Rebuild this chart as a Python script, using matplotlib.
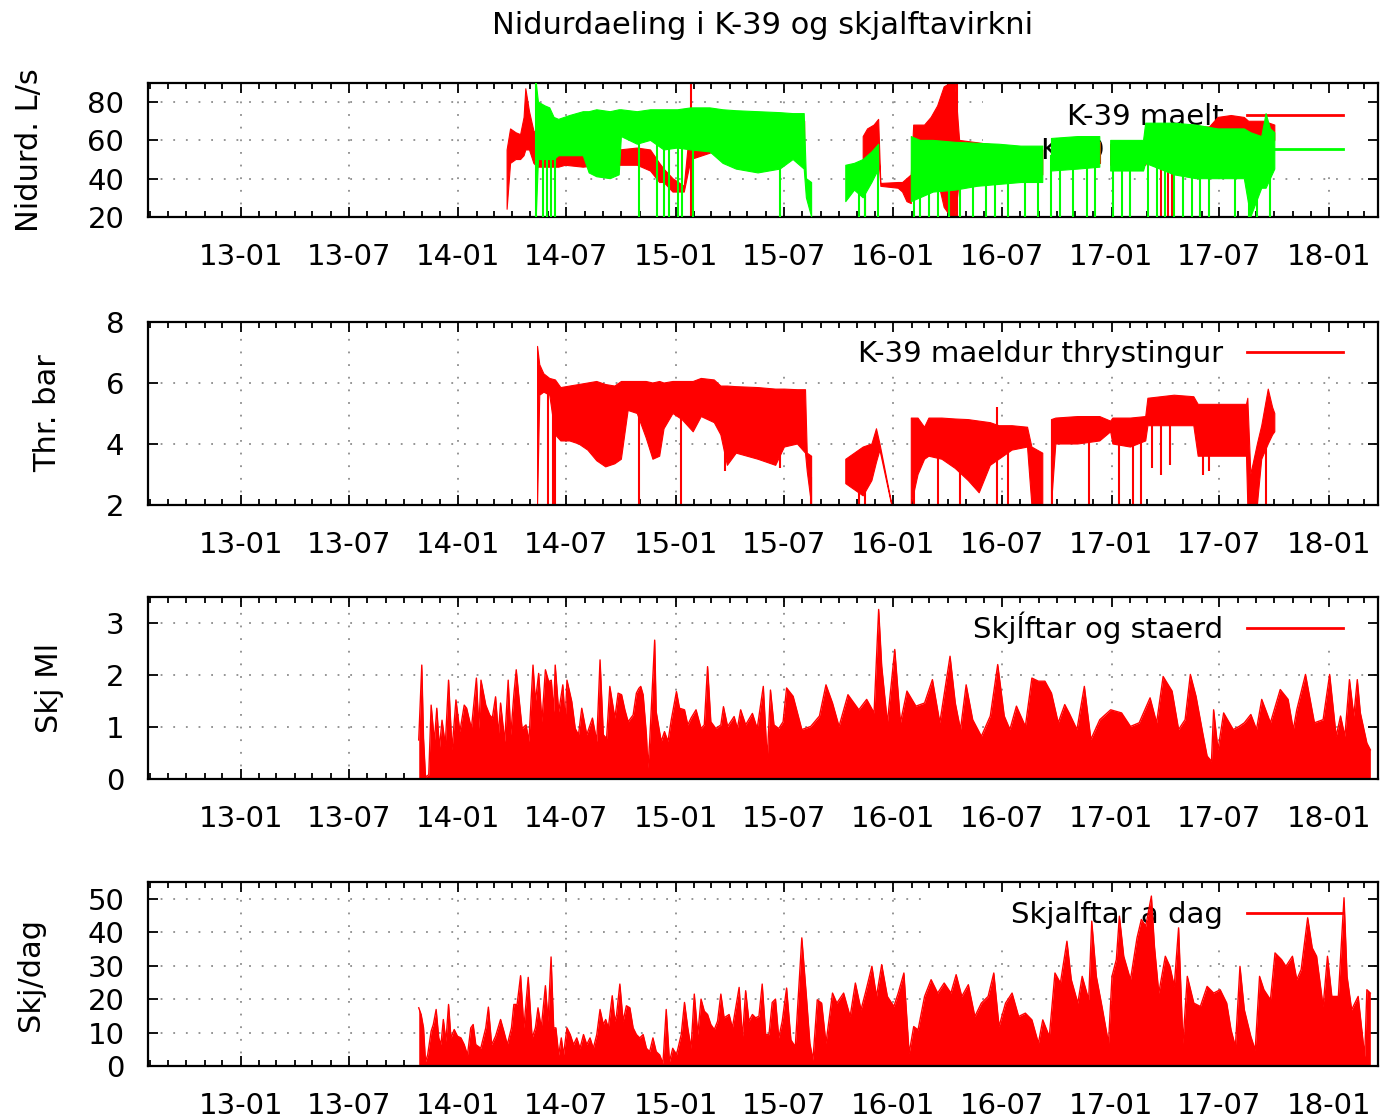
import numpy as np
import pandas as pd
import matplotlib
matplotlib.use("Agg")
import matplotlib.pyplot as plt
import matplotlib.dates as mdates
from matplotlib.lines import Line2D
from matplotlib.patches import Rectangle

plt.rcParams["font.family"] = "DejaVu Sans"
plt.rcParams["font.size"] = 21

RED = "#ff0000"
GREEN = "#00ff00"
nan = np.nan

# --- Panel 1: rennsli L/s (decimal year, top and bottom of the noisy band)
maelt_yr = [2014.223, 2014.239, 2014.264, 2014.285, 2014.301, 2014.309, 2014.326, 2014.346,
            2014.363, 2014.408, 2014.46, 2014.491, 2014.573, 2014.656, 2014.738, 2014.821,
            2014.882, 2014.924, 2014.944, 2014.985, 2015.037, 2015.068, 2015.2, 2015.4, 2015.59,
            2015.7,
            2015.859, 2015.879, 2015.909, 2015.930, 2015.940, 2016.020, 2016.040, 2016.060,
            2016.080, 2016.091, 2016.141, 2016.171, 2016.201, 2016.231, 2016.262, 2016.282,
            2016.302, 2016.5, 2016.684,
            2016.70,
            2016.724, 2016.946,
            2016.97,
            2016.996, 2017.157, 2017.167, 2017.45, 2017.489, 2017.55, 2017.61, 2017.63,
            2017.66, 2017.70, 2017.75]
maelt_hi = [55, 66, 64, 63, 72, 87, 75, 65, 62, 56, 55, 55, 54, 54, 55, 56, 55, 48, 45, 40,
            36, 72, 72, 72, 70,
            nan,
            62, 66, 68, 71, 37.5, 38, 38, 40, 42, 68, 68, 72, 78, 88, 90, 90, 60, 57, 55,
            nan,
            59, 59,
            nan,
            58, 58, 67, 67, 72, 73, 72, 70, 70, 70, 68]
maelt_lo = [24, 48, 50, 50, 52, 55, 55, 48, 46, 46, 46, 47, 46, 47, 47, 47, 44, 38, 38, 33,
            33, 50, 55, 55, 55,
            nan,
            40, 50, 52, 55, 36, 35, 33, 28, 27, 50, 50, 45, 40, 25, 20, 20, 40, 42, 42,
            nan,
            48, 48,
            nan,
            47, 47, 50, 48, 56, 56, 55, 29, 50, 55, 60]
maelt_full_yr = [2015.068, 2016.292]
maelt_drop_yr = [2015.869, 2017.227, 2017.258, 2017.278]

model_yr = [2014.357, 2014.367, 2014.398, 2014.419, 2014.439, 2014.46, 2014.511, 2014.573,
            2014.60, 2014.635, 2014.697, 2014.738, 2014.748, 2014.821, 2014.882, 2014.944,
            2015.006, 2015.068, 2015.155, 2015.215, 2015.276, 2015.376, 2015.477, 2015.537,
            2015.588, 2015.598, 2015.622,
            2015.70,
            2015.779, 2015.819, 2015.859, 2015.899, 2015.930,
            2016.0,
            2016.080, 2016.121, 2016.181, 2016.282, 2016.382, 2016.483, 2016.584, 2016.684,
            2016.70,
            2016.724, 2016.845, 2016.946,
            2016.97,
            2016.996, 2017.147, 2017.157, 2017.288, 2017.388, 2017.489, 2017.610, 2017.640,
            2017.690, 2017.710, 2017.730, 2017.750]
model_hi = [90, 80, 78, 77, 72, 71, 73, 75, 75, 76, 75, 76, 76, 75, 76, 76, 76, 77, 77, 76,
            75.5, 75, 74.5, 74, 74, 40, 38,
            nan,
            47, 48, 50, 54, 58,
            nan,
            62, 60, 60, 59, 58.5, 58, 57, 57,
            nan,
            61, 62, 62,
            nan,
            60, 60, 69, 69, 68, 66, 66, 64, 62, 74, 66, 64]
model_lo = [20, 50, 50, 50, 50, 52, 52, 52, 43, 41, 40, 42, 62, 58, 60, 55, 56, 55, 54, 48,
            45, 43, 45, 50, 45, 30, 20,
            nan,
            28, 34, 30, 38, 45,
            nan,
            28, 30, 33, 34, 36, 37, 38, 38,
            nan,
            44, 45, 46,
            nan,
            44, 44, 48, 42, 40, 40, 40, 20, 35, 35, 40, 45]
model_full_yr = [2014.357]
model_drop_yr = [2014.388, 2014.408, 2014.425, 2014.445, 2014.831, 2014.913, 2014.944,
                 2014.965, 2015.006, 2015.027, 2015.078, 2015.477, 2015.839, 2015.869,
                 2015.925, 2016.091, 2016.121, 2016.161, 2016.201, 2016.252, 2016.302,
                 2016.362, 2016.423, 2016.463, 2016.523, 2016.604, 2016.664, 2016.724,
                 2016.765, 2016.825, 2016.885, 2016.926, 2017.006, 2017.046, 2017.087,
                 2017.167, 2017.207, 2017.247, 2017.288, 2017.328, 2017.368, 2017.408,
                 2017.449, 2017.569, 2017.630, 2017.670, 2017.730]

# --- Panel 2: thrystingur bar
thr_yr = [2014.363, 2014.373, 2014.392, 2014.419, 2014.445, 2014.470, 2014.511, 2014.553,
          2014.594, 2014.635, 2014.676, 2014.718, 2014.748, 2014.779, 2014.821, 2014.862,
          2014.893, 2014.924, 2014.944, 2014.985, 2015.027, 2015.078, 2015.115, 2015.175,
          2015.205, 2015.235, 2015.276, 2015.376, 2015.457, 2015.497, 2015.557, 2015.594,
          2015.602, 2015.622,
          2015.70,
          2015.779, 2015.819, 2015.859, 2015.899, 2015.920, 2015.936, 2015.990,
          2016.03,
          2016.080, 2016.111, 2016.141, 2016.161, 2016.221, 2016.282, 2016.342, 2016.392,
          2016.443, 2016.483, 2016.543, 2016.614, 2016.634, 2016.684,
          2016.70,
          2016.724, 2016.744, 2016.845, 2016.946, 2016.996, 2017.006, 2017.087, 2017.157,
          2017.167, 2017.288, 2017.378, 2017.398, 2017.489, 2017.620, 2017.626, 2017.640,
          2017.670, 2017.690, 2017.720, 2017.740, 2017.750]
thr_hi = [7.2, 6.6, 6.3, 6.15, 6.1, 5.85, 5.9, 5.95, 6.0, 6.05, 5.95, 5.9, 6.05, 6.05, 6.05,
          6.05, 6.0, 6.05, 6.0, 6.05, 6.05, 6.05, 6.15, 6.1, 5.9, 5.9, 5.88, 5.85, 5.8, 5.8,
          5.78, 5.78, 3.7, 3.6,
          nan,
          3.5, 3.7, 3.9, 4.0, 4.5, 4.0, 2.05,
          nan,
          4.85, 4.85, 4.55, 4.85, 4.85, 4.82, 4.8, 4.75, 4.7, 4.6, 4.6, 4.55, 3.9, 3.7,
          nan,
          4.8, 4.85, 4.9, 4.9, 4.75, 4.85, 4.85, 4.9, 5.5, 5.6, 5.55, 5.3, 5.3, 5.3, 5.5,
          3.0, 4.0, 4.6, 5.8, 5.2, 5.0]
thr_lo = [2.0, 5.6, 5.7, 5.6, 4.3, 4.1, 4.1, 4.0, 3.8, 3.45, 3.25, 3.35, 3.5, 5.1, 5.0, 4.2,
          3.5, 3.6, 4.5, 5.0, 4.8, 4.4, 4.9, 4.7, 4.3, 3.3, 3.7, 3.5, 3.3, 3.9, 4.0, 3.7,
          3.1, 2.0,
          nan,
          2.7, 2.5, 2.3, 2.8, 3.4, 3.8, 2.0,
          nan,
          2.0, 3.0, 3.5, 3.6, 3.5, 3.2, 2.8, 2.4, 3.3, 3.5, 3.8, 3.9, 2.0, 2.0,
          nan,
          2.0, 4.0, 4.0, 4.1, 4.4, 4.0, 3.9, 4.1, 4.6, 4.6, 4.6, 3.6, 3.6, 3.6, 2.0, 2.0,
          2.0, 3.5, 4.0, 4.3, 4.4]
thr_drop_yr = [2014.412, 2014.433, 2014.445, 2014.831, 2015.021, 2015.225, 2015.477, 2015.618,
               2015.839, 2015.869, 2016.091, 2016.201, 2016.302, 2016.473, 2016.523, 2016.644,
               2016.674, 2016.728, 2016.895, 2017.036, 2017.097, 2017.137, 2017.187, 2017.227,
               2017.268, 2017.419, 2017.449, 2017.630, 2017.670, 2017.710]
thr_drop_lo = [2, 2, 2, 2, 2, 3.1, 3.2, 2, 2, 2, 2, 2, 2, 2, 2, 2, 2, 2, 2, 2, 2, 2, 3.2, 3.0,
               3.3, 3.0, 3.1, 2, 2, 2]
thr_spike = [2016.473, 5.2]

# --- Panel 3: skjalftar, staerd Ml  [decimal year, Ml]
skj_ml = [
    [2013.817, 0.75], [2013.831, 2.19], [2013.839, 0.78], [2013.848, 0.04], [2013.863, 0.08],
    [2013.874, 1.42], [2013.889, 0.72], [2013.900, 1.36], [2013.912, 0.59], [2013.924, 1.13],
    [2013.939, 0.65], [2013.954, 1.90], [2013.970, 0.56], [2013.988, 1.52], [2014.006, 0.91],
    [2014.026, 1.42], [2014.037, 1.36], [2014.059, 0.97], [2014.082, 1.94], [2014.093, 0.97],
    [2014.103, 1.90], [2014.125, 1.42], [2014.143, 1.23], [2014.155, 1.17], [2014.170, 1.58],
    [2014.183, 0.85], [2014.193, 1.46], [2014.212, 0.72], [2014.228, 1.90], [2014.240, 0.85],
    [2014.254, 1.62], [2014.265, 2.10], [2014.277, 1.58], [2014.292, 0.97], [2014.310, 1.04],
    [2014.323, 0.72], [2014.342, 2.19], [2014.353, 1.49], [2014.368, 2.03], [2014.383, 1.10],
    [2014.399, 2.10], [2014.414, 1.87], [2014.426, 1.90], [2014.437, 1.29], [2014.444, 2.19],
    [2014.460, 1.29], [2014.479, 1.81], [2014.490, 1.10], [2014.498, 1.90], [2014.520, 1.49],
    [2014.536, 0.97], [2014.551, 0.85], [2014.566, 1.36], [2014.589, 0.85], [2014.615, 1.17],
    [2014.635, 0.72], [2014.650, 2.29], [2014.665, 0.85], [2014.680, 0.78], [2014.695, 1.78],
    [2014.718, 1.17], [2014.733, 1.65], [2014.749, 1.62], [2014.764, 1.33], [2014.779, 1.10],
    [2014.802, 1.23], [2014.817, 1.65], [2014.828, 1.74], [2014.837, 1.78], [2014.848, 1.62],
    [2014.863, 0.85], [2014.870, 0.21], [2014.878, 0.72], [2014.901, 2.67], [2014.908, 1.29],
    [2014.931, 0.72], [2014.946, 0.91], [2014.962, 0.72], [2014.977, 1.13], [2015.001, 1.68],
    [2015.015, 1.36], [2015.038, 1.33], [2015.053, 1.04], [2015.068, 1.17], [2015.091, 1.33],
    [2015.114, 0.97], [2015.129, 1.04], [2015.144, 2.16], [2015.159, 1.10], [2015.182, 0.97],
    [2015.205, 1.04], [2015.217, 1.39], [2015.236, 1.01], [2015.266, 1.20], [2015.281, 0.97],
    [2015.296, 1.33], [2015.319, 1.04], [2015.350, 1.26], [2015.372, 0.97], [2015.400, 1.78],
    [2015.418, 0.37], [2015.433, 1.71], [2015.449, 1.04], [2015.471, 0.97], [2015.491, 1.10],
    [2015.507, 1.75], [2015.537, 1.59], [2015.577, 0.95], [2015.618, 1.01], [2015.658, 1.21],
    [2015.688, 1.81], [2015.718, 1.46], [2015.748, 1.01], [2015.789, 1.62], [2015.839, 1.33],
    [2015.875, 1.53], [2015.909, 1.27], [2015.930, 3.26], [2015.944, 2.17], [2015.970, 1.08],
    [2016.004, 2.49], [2016.030, 1.08], [2016.060, 1.69], [2016.101, 1.40], [2016.141, 1.46],
    [2016.177, 1.91], [2016.211, 1.08], [2016.258, 2.36], [2016.282, 1.46], [2016.306, 0.95],
    [2016.332, 1.81], [2016.362, 1.14], [2016.402, 0.82], [2016.443, 1.21], [2016.477, 2.20],
    [2016.507, 1.21], [2016.533, 0.95], [2016.563, 1.40], [2016.604, 1.01], [2016.634, 1.94],
    [2016.664, 1.88], [2016.694, 1.88], [2016.724, 1.65], [2016.755, 1.08], [2016.785, 1.43],
    [2016.805, 1.27], [2016.841, 0.95], [2016.875, 1.78], [2016.905, 0.76], [2016.946, 1.14],
    [2016.996, 1.33], [2017.046, 1.27], [2017.087, 1.01], [2017.127, 1.08], [2017.177, 1.56],
    [2017.207, 1.08], [2017.237, 1.97], [2017.278, 1.69], [2017.308, 0.95], [2017.338, 1.14],
    [2017.362, 2.01], [2017.388, 1.59], [2017.419, 0.88], [2017.439, 0.44], [2017.459, 0.34],
    [2017.469, 1.33], [2017.489, 0.56], [2017.515, 1.27], [2017.559, 0.95], [2017.586, 1.01],
    [2017.610, 1.08], [2017.640, 1.24], [2017.666, 0.95], [2017.690, 1.53], [2017.730, 1.08],
    [2017.775, 1.72], [2017.811, 1.53], [2017.835, 0.95], [2017.851, 1.33], [2017.891, 2.01],
    [2017.932, 1.08], [2017.972, 1.14], [2018.002, 2.01], [2018.032, 0.82], [2018.052, 1.21],
    [2018.072, 0.82], [2018.093, 1.91], [2018.113, 1.21], [2018.129, 1.91], [2018.143, 1.27],
    [2018.173, 0.69], [2018.189, 0.56],
]

# --- Panel 4: skjalftar a dag  [decimal year, fjoldi]
skj_dag = [
    [2013.817, 17.4], [2013.828, 15.4], [2013.839, 11.4], [2013.848, 1.3], [2013.858, 3.3],
    [2013.874, 10.4], [2013.884, 12.4], [2013.897, 16.9], [2013.909, 8.4], [2013.919, 6.4],
    [2013.930, 13.9], [2013.942, 7.4], [2013.954, 18.4], [2013.965, 8.4], [2013.980, 10.9],
    [2013.995, 8.9], [2014.011, 8.4], [2014.026, 6.4], [2014.041, 3.3], [2014.056, 11.4],
    [2014.067, 12.4], [2014.079, 6.4], [2014.102, 5.3], [2014.125, 11.4], [2014.137, 17.6],
    [2014.152, 6.4], [2014.170, 8.9], [2014.193, 13.9], [2014.208, 10.4], [2014.224, 6.4],
    [2014.243, 11.4], [2014.254, 18.4], [2014.269, 18.4], [2014.285, 27.0], [2014.300, 11.4],
    [2014.320, 26.5], [2014.338, 8.4], [2014.353, 11.4], [2014.365, 17.4], [2014.380, 11.4],
    [2014.399, 24.0], [2014.411, 13.4], [2014.425, 32.6], [2014.437, 11.4], [2014.447, 11.4],
    [2014.460, 3.3], [2014.472, 8.4], [2014.482, 3.3], [2014.498, 11.4], [2014.513, 9.4],
    [2014.528, 6.4], [2014.543, 8.4], [2014.558, 5.3], [2014.574, 9.4], [2014.589, 6.4],
    [2014.604, 8.4], [2014.619, 5.3], [2014.635, 9.4], [2014.650, 16.9], [2014.665, 12.4],
    [2014.676, 13.9], [2014.688, 11.4], [2014.706, 21.0], [2014.718, 13.4], [2014.726, 15.4],
    [2014.741, 24.5], [2014.756, 13.4], [2014.771, 18.0], [2014.787, 17.4], [2014.802, 11.4],
    [2014.817, 9.4], [2014.832, 8.4], [2014.848, 9.4], [2014.863, 5.3], [2014.878, 4.3],
    [2014.893, 8.4], [2014.908, 4.3], [2014.924, 3.3], [2014.939, 0.8], [2014.954, 16.9],
    [2014.969, 1.3], [2014.984, 5.3], [2015.001, 3.3], [2015.023, 9.4], [2015.038, 19.0],
    [2015.053, 11.4], [2015.068, 5.3], [2015.083, 21.5], [2015.099, 9.4], [2015.114, 20.0],
    [2015.129, 16.4], [2015.144, 15.4], [2015.159, 12.4], [2015.175, 10.9], [2015.190, 13.4],
    [2015.205, 21.5], [2015.220, 14.4], [2015.243, 15.4], [2015.258, 11.4], [2015.289, 23.5],
    [2015.304, 8.4], [2015.319, 22.5], [2015.334, 13.4], [2015.350, 15.4], [2015.365, 14.4],
    [2015.380, 14.9], [2015.395, 24.5], [2015.411, 9.4], [2015.426, 9.4], [2015.441, 19.0],
    [2015.456, 20.0], [2015.471, 8.4], [2015.487, 13.4], [2015.507, 23.3], [2015.527, 7.8],
    [2015.547, 5.8], [2015.577, 38.3], [2015.598, 20.8], [2015.614, 6.8], [2015.628, 1.8],
    [2015.648, 19.8], [2015.668, 18.8], [2015.688, 6.8], [2015.718, 21.8], [2015.738, 18.8],
    [2015.769, 21.8], [2015.799, 14.8], [2015.823, 24.8], [2015.849, 16.8], [2015.869, 21.8],
    [2015.899, 29.8], [2015.920, 20.8], [2015.944, 30.3], [2015.970, 20.8], [2016.000, 17.8],
    [2016.020, 21.8], [2016.046, 27.8], [2016.070, 3.8], [2016.091, 11.8], [2016.111, 10.8],
    [2016.141, 20.8], [2016.171, 25.8], [2016.201, 21.8], [2016.231, 24.8], [2016.262, 21.8],
    [2016.286, 27.3], [2016.312, 20.8], [2016.342, 24.3], [2016.372, 14.8], [2016.402, 18.8],
    [2016.433, 20.8], [2016.459, 27.8], [2016.483, 11.8], [2016.513, 18.8], [2016.543, 21.8],
    [2016.573, 14.8], [2016.604, 15.8], [2016.634, 13.8], [2016.664, 6.8], [2016.684, 13.8],
    [2016.714, 8.8], [2016.740, 27.8], [2016.765, 24.8], [2016.795, 37.3], [2016.815, 25.8],
    [2016.845, 18.8], [2016.865, 26.8], [2016.895, 19.8], [2016.909, 43.3], [2016.930, 26.8],
    [2016.956, 17.8], [2016.986, 6.8], [2017.002, 26.8], [2017.022, 31.8], [2017.036, 44.8],
    [2017.056, 32.8], [2017.087, 25.8], [2017.117, 38.3], [2017.137, 43.8], [2017.157, 41.8],
    [2017.183, 50.8], [2017.197, 35.8], [2017.217, 21.8], [2017.247, 32.8], [2017.268, 29.8],
    [2017.288, 23.8], [2017.308, 41.3], [2017.328, 6.8], [2017.348, 26.8], [2017.378, 18.8],
    [2017.408, 17.8], [2017.439, 23.8], [2017.469, 21.8], [2017.499, 22.8], [2017.529, 18.8],
    [2017.549, 10.8], [2017.569, 5.8], [2017.590, 29.8], [2017.610, 16.8], [2017.640, 8.8],
    [2017.660, 4.8], [2017.680, 26.8], [2017.700, 22.8], [2017.730, 19.8], [2017.751, 33.8],
    [2017.781, 31.8], [2017.801, 29.8], [2017.831, 32.8], [2017.851, 25.8], [2017.871, 28.8],
    [2017.901, 44.3], [2017.922, 35.3], [2017.942, 32.8], [2017.972, 17.8], [2017.992, 32.8],
    [2018.012, 20.8], [2018.042, 20.8], [2018.068, 50.3], [2018.082, 26.8], [2018.103, 16.8],
    [2018.133, 20.8], [2018.163, 2.8], [2018.173, 22.8], [2018.189, 21.8],
]


def to_dates(years):
    years = np.asarray(years, dtype=float)
    return pd.Timestamp("2013-01-01") + pd.to_timedelta((years - 2013.0) * 365.25, unit="D")


def band_mid(at, yr, hi, lo):
    yr, hi, lo = (np.asarray(a, dtype=float) for a in (yr, hi, lo))
    ok = ~np.isnan(hi)
    return np.interp(at, yr[ok], ((hi + lo) / 2)[ok])


def style_axis(ax, ylim, yticks, ylabel, label_x):
    ax.set_xlim(pd.Timestamp("2012-07-29"), pd.Timestamp("2018-03-24"))
    ax.set_ylim(*ylim)
    ax.set_yticks(yticks)
    ax.xaxis.set_major_locator(mdates.MonthLocator(bymonth=(1, 7)))
    ax.xaxis.set_minor_locator(mdates.MonthLocator())
    ax.xaxis.set_major_formatter(mdates.DateFormatter("%y-%m"))
    ax.tick_params(which="both", direction="in", top=True, right=True, width=1.3)
    ax.tick_params(which="major", length=7.5)
    ax.tick_params(which="minor", length=4.5)
    ax.tick_params(axis="x", pad=19, labelsize=21)
    ax.tick_params(axis="y", pad=17, labelsize=21)
    for s in ax.spines.values():
        s.set_linewidth(1.6)
    for t in ax.get_xticks():
        ax.axvline(t, color="#8c8c8c", lw=1.3, ls=(0, (1, 6)), zorder=0.5)
    for t in yticks:
        ax.axhline(t, color="#8c8c8c", lw=1.3, ls=(0, (1, 6)), zorder=0.5)
    ax.set_ylabel(ylabel, fontsize=22)
    ax.yaxis.label.set_verticalalignment("center")
    ax.yaxis.set_label_coords(label_x, 0.5)


def key(ax, labels, colors, y_mid, box_x, box_y):
    ax.add_patch(Rectangle((box_x, box_y), 1 - box_x, 1 - box_y, transform=ax.transAxes,
                           facecolor="white", edgecolor="none", zorder=1))
    handles = [Line2D([], [], color=c, lw=2) for c in colors]
    leg = ax.legend(handles, labels, loc="center right", bbox_to_anchor=(0.9715, y_mid),
                    frameon=False, markerfirst=False, handlelength=3.3, handletextpad=0.8,
                    borderaxespad=0, borderpad=0, labelspacing=0.2, fontsize=21)
    leg.set_zorder(1.5)


fig = plt.figure(figsize=(13.8, 11.2), dpi=100)
ax1 = fig.add_axes([0.1072, 0.8063, 0.8913, 0.1196])
ax2 = fig.add_axes([0.1072, 0.5491, 0.8913, 0.1634])
ax3 = fig.add_axes([0.1072, 0.3045, 0.8913, 0.1625])
ax4 = fig.add_axes([0.1072, 0.0482, 0.8913, 0.1643])

fig.text(763 / 1380, 1 - 26 / 1120, "Nidurdaeling i K-39 og skjalftavirkni",
         ha="center", va="center", fontsize=22)

# panel 1
ax1.fill_between(to_dates(maelt_yr), maelt_lo, maelt_hi, color=RED, lw=0.8, zorder=2)
ax1.vlines(to_dates(maelt_full_yr), 20, 90, color=RED, lw=1.5, zorder=2)
ax1.vlines(to_dates(maelt_drop_yr), 20, band_mid(maelt_drop_yr, maelt_yr, maelt_hi, maelt_lo),
           color=RED, lw=1.5, zorder=2)
ax1.fill_between(to_dates(model_yr), model_lo, model_hi, color=GREEN, lw=0.8, zorder=3)
ax1.vlines(to_dates(model_full_yr), 20, 90, color=GREEN, lw=1.5, zorder=3)
ax1.vlines(to_dates(model_drop_yr), 20, band_mid(model_drop_yr, model_yr, model_hi, model_lo),
           color=GREEN, lw=1.5, zorder=3)
style_axis(ax1, (20, 90), [20, 40, 60, 80], "Nidurd. L/s", -0.0959)
key(ax1, ["K-39 maelt", "K-39 reiknad"], [RED, GREEN], 0.619, 0.679, 0.336)

# panel 2
ax2.fill_between(to_dates(thr_yr), thr_lo, thr_hi, color=RED, lw=0.8, zorder=2)
ax2.vlines(to_dates(thr_drop_yr), thr_drop_lo, band_mid(thr_drop_yr, thr_yr, thr_hi, thr_lo),
           color=RED, lw=1.5, zorder=2)
ax2.vlines(to_dates([thr_spike[0]]), 3.5, thr_spike[1], color=RED, lw=1.5, zorder=2)
style_axis(ax2, (2, 8), [2, 4, 6, 8], "Thr. bar", -0.0813)
key(ax2, ["K-39 maeldur thrystingur"], [RED], 0.825, 0.506, 0.727)

# panel 3
ml = np.array(skj_ml)
ax3.fill_between(to_dates(ml[:, 0]), 0, ml[:, 1], color=RED, lw=0, zorder=2)
ax3.plot(to_dates(ml[:, 0]), ml[:, 1], color=RED, lw=1.0, zorder=2)
style_axis(ax3, (0, 3.5), [0, 1, 2, 3], "Skj Ml", -0.0797)
key(ax3, ["Skj\u013aftar og staerd"], [RED], 0.830, 0.5715, 0.709)

# panel 4
dag = np.array(skj_dag)
ax4.fill_between(to_dates(dag[:, 0]), 0, dag[:, 1], color=RED, lw=0, zorder=2)
ax4.plot(to_dates(dag[:, 0]), dag[:, 1], color=RED, lw=1.0, zorder=2)
style_axis(ax4, (0, 55), [0, 10, 20, 30, 40, 50], "Skj/dag", -0.0951)
key(ax4, ["Skjalftar a dag"], [RED], 0.8207, 0.633, 0.630)

fig.savefig("out.png", dpi=100)
